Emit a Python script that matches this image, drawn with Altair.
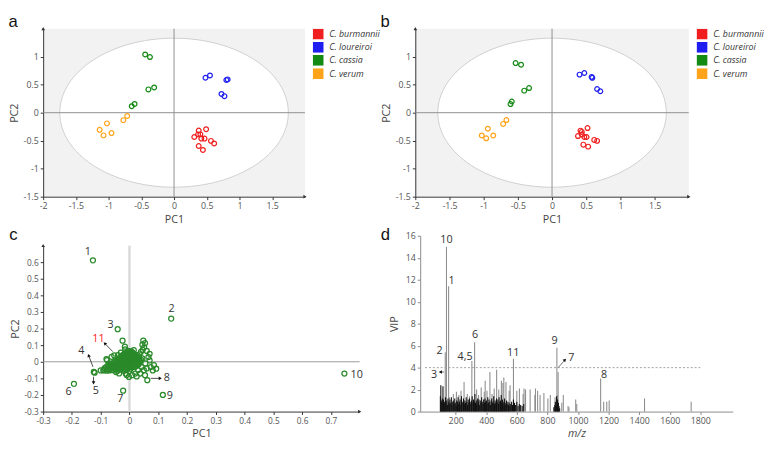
import altair as alt
import pandas as pd

# ---------------- data ----------------
SPECIES = ["C. burmannii", "C. loureiroi", "C. cassia", "C. verum"]
SP_COLORS = ["#f01e1e", "#1e1ef0", "#138a13", "#ffa31a"]

a_species = ["C. burmannii"] * 11 + ["C. loureiroi"] * 6 + ["C. cassia"] * 6 + ["C. verum"] * 6
a_pc1 = [0.377, 0.309, 0.402, 0.417, 0.466, 0.49, 0.377, 0.441, 0.564, 0.613, 0.368,
         0.48, 0.549, 0.799, 0.819, 0.725, 0.77,
         -0.441, -0.368, -0.392, -0.304, -0.647, -0.603,
         -1.137, -1.078, -1.025, -0.956, -0.775, -0.716]
a_pc2 = [-0.318, -0.434, -0.387, -0.462, -0.462, -0.295, -0.595, -0.665, -0.503, -0.549, -0.387,
         0.624, 0.665, 0.584, 0.595, 0.335, 0.295,
         1.04, 0.994, 0.416, 0.451, 0.116, 0.156,
         -0.306, -0.405, -0.191, -0.364, -0.133, -0.058]

b_species = ["C. burmannii"] * 11 + ["C. loureiroi"] * 6 + ["C. cassia"] * 6 + ["C. verum"] * 6
b_pc1 = [0.416, 0.379, 0.435, 0.472, 0.505, 0.519, 0.458, 0.528, 0.617, 0.659, 0.435,
         0.402, 0.472, 0.579, 0.589, 0.659, 0.706,
         -0.533, -0.453, -0.407, -0.336, -0.607, -0.589,
         -1.028, -0.963, -0.939, -0.86, -0.715, -0.668]
b_pc2 = [-0.32, -0.417, -0.389, -0.434, -0.434, -0.274, -0.571, -0.606, -0.486, -0.503, -0.343,
         0.68, 0.709, 0.64, 0.623, 0.423, 0.383,
         0.886, 0.857, 0.394, 0.44, 0.154, 0.2,
         -0.406, -0.457, -0.286, -0.406, -0.2, -0.131]

# panel c: loadings (PC1, PC2)
c_cloud = [
    (-0.004, 0.066), (0.006, 0.062), (0.001, 0.058), (-0.009, 0.057), (0.011, 0.055),
    (-0.016, 0.051), (-0.006, 0.048), (0.004, 0.053), (0.014, 0.047), (0.021, 0.042), (-0.021, 0.043),
    (-0.026, 0.036), (-0.014, 0.033), (-0.004, 0.038), (0.006, 0.034), (0.016, 0.037), (0.026, 0.032),
    (-0.031, 0.028), (-0.019, 0.027), (-0.009, 0.029), (0.001, 0.026), (0.011, 0.028), (0.021, 0.026),
    (0.031, 0.027),
    (-0.036, 0.021), (-0.024, 0.018), (-0.016, 0.023), (-0.005, 0.019), (0.005, 0.022), (0.014, 0.018),
    (0.026, 0.021), (0.034, 0.017),
    (-0.041, 0.012), (-0.031, 0.013), (-0.021, 0.011), (-0.009, 0.013), (0.001, 0.012), (0.011, 0.011),
    (0.021, 0.013), (0.031, 0.011), (0.041, 0.012),
    (-0.046, 0.006), (-0.034, 0.003), (-0.026, 0.008), (-0.014, 0.004), (-0.004, 0.007), (0.006, 0.003),
    (0.016, 0.006), (0.024, 0.002), (0.036, 0.005),
    (-0.053, -0.002), (-0.043, -0.001), (-0.033, -0.003), (-0.023, -0.002), (-0.013, -0.001),
    (-0.003, -0.003), (0.007, -0.002), (0.017, -0.001), (0.027, -0.003), (0.037, -0.002),
    (-0.061, -0.009), (-0.049, -0.012), (-0.041, -0.008), (-0.029, -0.011), (-0.021, -0.008),
    (-0.009, -0.012), (0.001, -0.009), (0.011, -0.011), (0.019, -0.008), (0.031, -0.012),
    (-0.069, -0.017), (-0.059, -0.018), (-0.049, -0.016), (-0.039, -0.018), (-0.029, -0.017),
    (-0.019, -0.018), (-0.009, -0.016), (0.001, -0.018), (0.011, -0.017), (0.021, -0.018), (0.031, -0.016),
    (-0.076, -0.024), (-0.064, -0.027), (-0.056, -0.023), (-0.044, -0.026), (-0.036, -0.024),
    (-0.024, -0.027), (-0.016, -0.023), (-0.004, -0.026), (0.006, -0.024), (0.014, -0.027), (0.026, -0.023),
    (-0.081, -0.032), (-0.071, -0.033), (-0.061, -0.031), (-0.051, -0.033), (-0.041, -0.032),
    (-0.031, -0.033), (-0.021, -0.031), (-0.011, -0.033), (-0.001, -0.032), (0.009, -0.033), (0.019, -0.031),
    (-0.086, -0.039), (-0.074, -0.042), (-0.066, -0.038), (-0.054, -0.041), (-0.046, -0.039),
    (-0.034, -0.042), (-0.026, -0.038), (-0.014, -0.041), (-0.006, -0.039), (0.004, -0.042),
    (-0.091, -0.052), (-0.079, -0.054), (-0.061, -0.051), (-0.042, -0.055), (-0.021, -0.052), (-0.001, -0.056),
    (-0.07, -0.047), (-0.05, -0.048), (-0.03, -0.047), (-0.011, -0.048),
    (-0.024, 0.127), (-0.016, 0.091), (0.048, 0.127), (0.045, 0.103), (0.051, 0.087), (0.054, 0.112),
    (0.07, 0.048), (0.066, 0.028), (0.07, 0.008), (-0.08, 0.016), (-0.078, 0.01), (-0.053, 0.038),
    (-0.062, 0.03), (-0.124, -0.061), (-0.121, -0.066), (-0.071, -0.052), (-0.013, -0.071), (0.009, -0.081),
    (0.02, -0.071), (0.037, -0.071), (0.054, -0.081), (0.062, -0.111), (0.074, -0.032), (0.081, -0.052),
    (0.093, -0.042), (0.042, -0.032), (0.031, -0.012), (0.045, 0.02), (0.055, -0.01), (0.05, -0.05),
    (0.03, -0.05), (-0.047, -0.062), (-0.036, -0.07), (-0.002, -0.091), (-0.01, -0.08), (0.025, -0.088),
    (0.04, 0.06), (0.046, 0.072), (0.06, 0.065), (0.035, 0.045), (-0.03, 0.055), (-0.04, 0.04),
    (0.015, 0.07), (-0.015, 0.075), (0.085, -0.02), (0.06, -0.04), (-0.088, -0.05), (-0.1, -0.052),
    (-0.127, 0.611), (0.145, 0.26), (-0.041, 0.196), (-0.193, -0.133), (-0.022, -0.174),
    (0.116, -0.2), (0.747, -0.071),
]
c_labels = [("1", -0.145, 0.66), ("2", 0.146, 0.32), ("3", -0.066, 0.22), ("4", -0.167, 0.065),
            ("5", -0.117, -0.174), ("6", -0.212, -0.18), ("7", -0.032, -0.226), ("8", 0.13, -0.1),
            ("9", 0.14, -0.206), ("10", 0.79, -0.08)]
c_red_labels = [("11", -0.108, 0.135)]
# arrows: tail x, tail y, head x, head y, head angle (deg)
c_arrows = [(-0.058, 0.061, -0.086, 0.111, 315), (-0.127, -0.03, -0.142, 0.038, 338),
            (-0.125, -0.09, -0.125, -0.127, 180), (0.074, -0.1, 0.107, -0.1, 90)]

# panel d: VIP vs m/z
d_gray = [(140, 15.0), (154, 11.4), (132, 5.4), (324, 6.3), (306, 4.6), (578, 4.8), (862, 5.8),
          (870, 3.6), (1148, 3.0),
          (160, 1.3), (185, 1.6), (205, 1.8), (221, 1.5), (235, 1.9), (255, 2.7), (276, 1.6), (290, 1.4),
          (337, 2.0), (350, 1.5), (367, 2.2), (387, 1.8), (393, 2.8), (405, 1.9), (424, 3.6), (438, 1.6),
          (452, 2.1), (468, 3.8), (482, 2.0), (499, 2.8), (509, 2.6), (515, 3.1), (529, 2.7), (550, 1.9),
          (556, 2.4), (600, 1.9), (617, 2.1), (641, 1.6), (647, 2.1), (657, 2.0), (687, 2.0), (718, 1.5),
          (722, 2.1), (736, 1.9), (752, 1.5), (777, 1.7), (803, 1.2), (819, 1.5), (850, 1.3), (866, 1.5),
          (894, 0.8), (904, 1.5), (935, 0.5), (941, 0.4), (985, 1.1), (992, 0.7), (1168, 0.9),
          (1188, 0.9), (1204, 1.0), (1435, 1.2), (1740, 0.9)]
d_black = [(100, 1.4), (103, 2.4), (106, 1.0), (110, 0.8), (113, 1.2), (117, 2.3), (120, 1.1), (124, 0.7),
           (128, 0.9), (133, 1.3), (137, 0.8), (142, 1.0), (146, 0.6), (150, 1.2), (155, 0.9), (159, 0.7),
           (163, 1.1), (168, 0.8), (172, 1.3), (176, 0.6), (181, 0.9), (185, 1.0), (190, 0.7), (194, 1.2),
           (198, 0.8), (203, 0.5), (207, 1.0), (212, 0.9), (216, 1.3), (220, 0.7), (225, 0.9), (229, 1.1),
           (234, 0.6), (238, 1.4), (242, 0.8), (247, 0.9), (251, 1.2), (256, 0.7), (260, 1.0), (264, 0.8),
           (269, 1.3), (273, 0.9), (278, 0.6), (282, 1.1), (286, 0.8), (291, 1.2), (295, 0.9), (300, 0.7),
           (304, 1.0), (308, 1.4), (313, 0.8), (317, 1.1), (322, 0.9), (326, 1.6), (330, 0.8), (335, 1.0),
           (339, 0.7), (344, 1.2), (348, 0.9), (352, 1.1), (357, 0.6), (361, 1.0), (366, 0.8), (370, 1.3),
           (374, 0.9), (379, 0.7), (383, 1.1), (388, 0.8), (392, 1.2), (396, 0.9), (401, 1.0), (405, 0.7),
           (410, 1.3), (414, 0.8), (418, 1.1), (423, 0.9), (427, 0.6), (432, 1.0), (436, 1.2), (440, 0.8),
           (445, 0.9), (449, 1.4), (454, 0.7), (458, 1.0), (462, 0.8), (467, 1.2), (471, 0.9), (476, 1.1),
           (480, 0.7), (484, 1.3), (489, 0.9), (493, 1.0), (498, 1.5), (502, 0.8), (506, 1.1), (511, 0.7),
           (515, 0.9), (520, 1.2), (524, 0.6), (528, 0.8), (533, 1.0), (537, 0.7), (542, 0.9), (546, 0.6),
           (550, 0.8), (555, 0.5), (560, 0.7), (566, 0.9), (572, 0.6), (578, 1.1), (585, 0.8), (592, 0.6),
           (600, 0.9), (608, 0.5), (616, 0.7), (625, 0.6), (635, 0.5), (645, 0.7),
           (842, 0.4), (848, 0.6), (852, 0.9), (856, 0.5), (860, 1.4), (866, 1.1), (872, 0.8), (876, 0.5),
           (880, 0.3)]
d_labels = [("10", 140, 15.6), ("1", 174, 11.9), ("2", 95, 5.5), ("6", 327, 7.0), ("4,5", 262, 5.0),
            ("11", 576, 5.3), ("9", 846, 6.4), ("7", 957, 4.85), ("8", 1170, 3.3), ("3", 59, 3.3)]
d_arrows = [(870, 4.0, 915, 4.7, 44), (125, 3.6, 100, 3.6, 270)]
d_threshold = 4
d_threshold_end = 1800

a_xticks = [-2, -1.5, -1, -0.5, 0, 0.5, 1, 1.5]
a_yticks = [-1.5, -1, -0.5, 0, 0.5, 1]
c_xticks = [-0.3, -0.2, -0.1, 0, 0.1, 0.2, 0.3, 0.4, 0.5, 0.6, 0.7]
c_yticks = [-0.3, -0.2, -0.1, 0, 0.1, 0.2, 0.3, 0.4, 0.5, 0.6]
d_xticks = [200, 400, 600, 800, 1000, 1200, 1400, 1600, 1800]
d_yticks = [0, 2, 4, 6, 8, 10, 12, 14, 16]

FONT = "Open Sans"

ELLIPSE = "M-1,0A1,0.652,0,1,1,1,0A1,0.652,0,1,1,-1,0Z"


def ax(values, title, **kw):
    opts = dict(values=values, tickCount=len(values) + 2, labelExpr="'' + datum.value", title=title,
                grid=False, tickSize=3, labelFontSize=9, labelColor="#555", titleFontSize=11,
                titleColor="#444", titleFontWeight="normal", domainColor="#333", tickColor="#333",
                labelFont=FONT, titleFont=FONT, labelOverlap=False, labelFlush=False, labelPadding=2)
    opts.update(kw)
    return alt.Axis(**opts)


def panel_title(letter, **kw):
    opts = dict(text=letter, anchor="start", fontSize=17, fontWeight="normal", font="Liberation Sans",
                color="#111", offset=-4)
    opts.update(kw)
    return alt.TitleParams(**opts)


def pca_panel(letter, species, pc1, pc2, width, height):
    df = pd.DataFrame({"species": species, "PC1": pc1, "PC2": pc2})
    origin = pd.DataFrame({"PC1": [0.0], "PC2": [0.0]})
    arrows = pd.DataFrame({"PC1": [2.0, -2.0], "PC2": [-1.5, 1.5], "ang": [90, 0]})
    xs = alt.Scale(domain=[-2, 2], nice=False, zero=False)
    ys = alt.Scale(domain=[-1.5, 1.5], nice=False, zero=False)
    X = alt.X("PC1:Q", scale=xs, axis=ax(a_xticks, "PC1", titlePadding=3))
    Y = alt.Y("PC2:Q", scale=ys, axis=ax(a_yticks, "PC2", titlePadding=4))
    ell = alt.Chart(origin).mark_point(shape=ELLIPSE, size=234 * 234, filled=True, fill="white",
                                       stroke="#cfcfcf", strokeWidth=1, opacity=1).encode(x=X, y=Y)
    vline = alt.Chart(origin).mark_rule(color="#8f8f8f", strokeWidth=1).encode(x="PC1:Q")
    hline = alt.Chart(origin).mark_rule(color="#8f8f8f", strokeWidth=1).encode(y="PC2:Q")
    pts = alt.Chart(df).mark_point(filled=False, size=24, strokeWidth=1.2, opacity=1).encode(
        x="PC1:Q", y="PC2:Q",
        color=alt.Color("species:N", scale=alt.Scale(domain=SPECIES, range=SP_COLORS),
                        legend=alt.Legend(title=None, orient="right", offset=8, padding=0,
                                          symbolType="square", symbolSize=9, symbolStrokeWidth=8,
                                          labelFontStyle="italic", labelFontSize=9, labelColor="#333",
                                          labelFont=FONT, labelOffset=6, rowPadding=2.5,
                                          clipHeight=11)))
    tri = alt.Chart(arrows).mark_point(shape="triangle-up", size=14, filled=True, color="#333",
                                       opacity=1).encode(x="PC1:Q", y="PC2:Q",
                                                         angle=alt.Angle("ang:Q", scale=None))
    return alt.layer(ell, vline, hline, pts, tri).properties(
        width=width, height=height, title=panel_title(letter),
        view=alt.ViewBackground(fill="#f2f2f2", stroke="transparent"))


def c_panel(width, height):
    cloud = pd.DataFrame(c_cloud, columns=["PC1", "PC2"])
    lab = pd.DataFrame(c_labels, columns=["t", "PC1", "PC2"])
    red = pd.DataFrame(c_red_labels, columns=["t", "PC1", "PC2"])
    arr = pd.DataFrame(c_arrows, columns=["PC1", "PC2", "x2", "y2", "ang"])
    origin = pd.DataFrame({"PC1": [0.0], "PC2": [0.0]})
    ends = pd.DataFrame({"PC1": [0.8, -0.3], "PC2": [-0.3, 0.7], "ang": [90, 0]})
    xs = alt.Scale(domain=[-0.3, 0.8], nice=False, zero=False)
    ys = alt.Scale(domain=[-0.3, 0.7], nice=False, zero=False)
    X = alt.X("PC1:Q", scale=xs, axis=ax(c_xticks, "PC1", labelFontSize=8.5, titlePadding=3))
    Y = alt.Y("PC2:Q", scale=ys, axis=ax(c_yticks, "PC2", labelFontSize=8.5, titlePadding=4))
    pts = alt.Chart(cloud).mark_point(filled=False, size=26, strokeWidth=1.3, color="#2a8a2a",
                                      opacity=1).encode(x=X, y=Y)
    vline = alt.Chart(origin).mark_rule(color="#dadada", strokeWidth=2.5).encode(x="PC1:Q")
    hline = alt.Chart(origin).mark_rule(color="#9a9a9a", strokeWidth=1).encode(y="PC2:Q")
    arr_line = alt.Chart(arr).mark_rule(color="#222", strokeWidth=0.8).encode(
        x="PC1:Q", y="PC2:Q", x2="x2:Q", y2="y2:Q")
    arr_head = alt.Chart(arr).mark_point(shape="triangle-up", size=14, filled=True, color="#111",
                                         opacity=1).encode(x="x2:Q", y="y2:Q",
                                                           angle=alt.Angle("ang:Q", scale=None))
    txt = alt.Chart(lab).mark_text(fontSize=11, color="#333", font=FONT).encode(
        x="PC1:Q", y="PC2:Q", text="t:N")
    txt_red = alt.Chart(red).mark_text(fontSize=11, color="#ff1a1a", font=FONT).encode(
        x="PC1:Q", y="PC2:Q", text="t:N")
    tri = alt.Chart(ends).mark_point(shape="triangle-up", size=14, filled=True, color="#333",
                                     opacity=1).encode(x="PC1:Q", y="PC2:Q",
                                                       angle=alt.Angle("ang:Q", scale=None))
    return alt.layer(vline, hline, pts, arr_line, arr_head, txt, txt_red, tri).properties(
        width=width, height=height, title=panel_title("c", offset=0),
        view=alt.ViewBackground(fill="white", stroke="transparent"))


def d_panel(width, height):
    gray = pd.DataFrame(d_gray, columns=["mz", "vip"])
    black = pd.DataFrame(d_black, columns=["mz", "vip"])
    lab = pd.DataFrame(d_labels, columns=["t", "mz", "vip"])
    arr = pd.DataFrame(d_arrows, columns=["mz", "vip", "mz2", "vip2", "ang"])
    thr = pd.DataFrame({"mz": [0], "mz2": [d_threshold_end], "vip": [d_threshold]})
    xs = alt.Scale(domain=[0, 1980], nice=False, zero=False)
    ys = alt.Scale(domain=[0, 16], nice=False, zero=True)
    X = alt.X("mz:Q", scale=xs, axis=ax(d_xticks, "m/z", domainColor="#8a8a8a", tickColor="#8a8a8a",
                                       titleFontStyle="italic", titlePadding=3))
    Y = alt.Y("vip:Q", scale=ys, axis=ax(d_yticks, "VIP", domainColor="#8a8a8a", tickColor="#8a8a8a",
                                        titlePadding=6))
    g = alt.Chart(gray).mark_bar(color="#8e8e8e", size=1.1).encode(x=X, y=Y)
    dash = alt.Chart(thr).mark_rule(color="#a0a0a0", strokeWidth=1, strokeDash=[2, 2]).encode(
        x="mz:Q", x2="mz2:Q", y="vip:Q")
    b = alt.Chart(black).mark_bar(color="#111", size=1.1).encode(x="mz:Q", y="vip:Q")
    arr_line = alt.Chart(arr).mark_rule(color="#555", strokeWidth=0.8).encode(
        x="mz:Q", y="vip:Q", x2="mz2:Q", y2="vip2:Q")
    arr_head = alt.Chart(arr).mark_point(shape="triangle-up", size=14, filled=True, color="#111",
                                         opacity=1).encode(x="mz2:Q", y="vip2:Q",
                                                           angle=alt.Angle("ang:Q", scale=None))
    txt = alt.Chart(lab).mark_text(fontSize=11, color="#333", font=FONT).encode(
        x="mz:Q", y="vip:Q", text="t:N")
    return alt.layer(g, dash, b, arr_line, arr_head, txt).properties(
        width=width, height=height, title=panel_title("d", offset=-12, dx=-8),
        view=alt.ViewBackground(fill="white", stroke="transparent"))


a = pca_panel("a", a_species, a_pc1, a_pc2, 268, 172)
b = pca_panel("b", b_species, b_pc1, b_pc2, 280, 172)
c = c_panel(324, 170)
d = d_panel(320, 180)

chart = alt.concat(a, b, c, d, columns=2, spacing={"row": 2, "column": 0}).properties(
    align="none", bounds="full", padding=0
).resolve_scale(x="independent", y="independent", color="independent").resolve_legend(
    color="independent"
).configure_view(strokeWidth=0)

chart.save("out.html", embed_options={"renderer": "svg", "actions": False})
